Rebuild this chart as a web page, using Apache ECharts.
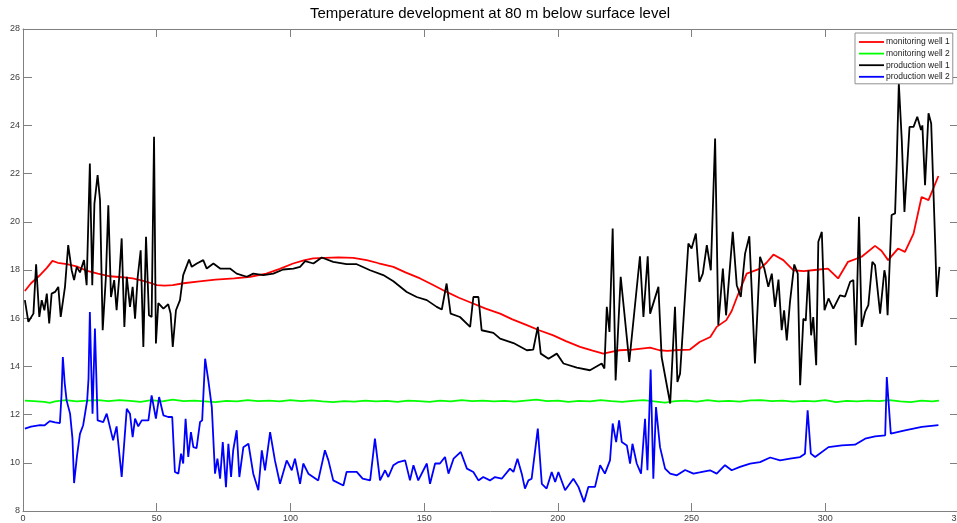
<!DOCTYPE html>
<html>
<head>
<meta charset="utf-8">
<title>Temperature development at 80 m below surface level</title>
<script src="https://cdn.jsdelivr.net/npm/echarts@6/dist/echarts.min.js"></script>
<style>
  html, body { margin: 0; padding: 0; background: #ffffff; }
  #chart { width: 957px; height: 523px; }
</style>
</head>
<body>
<div id="chart"></div>
<script>
// Temperature (deg C) at 80 m depth, [time, temperature] samples per well
const monitoringWell1 = [
  [0.7,17.13],[3,17.45],[6,17.75],[9,18.1],[11,18.38],[13,18.3],[16.4,18.24],[20,18.15],[24,17.96],[28,17.85],
  [32.5,17.74],[37,17.7],[41,17.65],[45,17.55],[48,17.45],[50,17.37],[53,17.35],[56,17.37],[60,17.45],[66,17.53],
  [72,17.6],[79,17.65],[85,17.72],[91,17.85],[96,18.05],[101,18.27],[105,18.4],[108.5,18.48],[113,18.5],[118,18.52],
  [123.5,18.5],[128.5,18.41],[133,18.28],[138.5,18.13],[143,17.9],[148.5,17.65],[153,17.4],[158.4,17.09],[163,16.85],[168.3,16.61],
  [173,16.4],[178.4,16.19],[183,15.95],[188.4,15.71],[193,15.5],[198.3,15.29],[203,15.05],[208.3,14.81],[213,14.65],[217,14.53],
  [220,14.6],[223,14.67],[228,14.7],[234.5,14.78],[238,14.67],[241,14.64],[245,14.68],[249.4,14.7],[253,15.01],[257,15.22],
  [259.4,15.64],[263,15.92],[265,16.3],[267,16.88],[270.6,17.85],[275.6,18.06],[278,18.3],[280.6,18.64],[284.3,18.41],[288,17.99],
  [292,17.95],[296,18.0],[301,18.06],[304.8,17.65],[308.5,18.34],[313.6,18.55],[318.6,19.0],[321,18.8],[323.5,18.41],[327.2,18.89],
  [329.8,18.75],[333,19.51],[336,21.03],[338.6,20.9],[342.3,21.9]
];

const monitoringWell2 = [
  [0.7,12.58],[4,12.56],[8,12.53],[10,12.49],[12,12.55],[16,12.6],[20,12.55],[24,12.58],[28,12.6],[32,12.56],
  [36,12.6],[40,12.57],[44,12.53],[48,12.6],[52,12.55],[56,12.62],[60,12.56],[64,12.58],[68,12.55],[72,12.52],
  [76,12.57],[80,12.55],[84,12.6],[88,12.56],[92,12.58],[96,12.55],[100,12.6],[104,12.56],[108,12.59],[112,12.55],
  [116,12.52],[120,12.56],[124,12.54],[128,12.58],[132,12.55],[136,12.57],[140,12.53],[144,12.58],[148,12.56],[152,12.53],
  [156,12.58],[160,12.55],[164,12.6],[168,12.56],[172,12.58],[176,12.55],[180,12.57],[184,12.54],[188,12.58],[192,12.62],
  [196,12.56],[200,12.58],[204,12.53],[208,12.57],[212,12.55],[216,12.6],[220,12.56],[224,12.53],[228,12.57],[232,12.6],
  [236,12.55],[240,12.5],[244,12.56],[248,12.58],[252,12.54],[256,12.6],[260,12.55],[264,12.57],[268,12.54],[272,12.59],
  [276,12.6],[280,12.56],[284,12.58],[288,12.54],[292,12.57],[296,12.55],[300,12.6],[304,12.52],[308,12.57],[312,12.55],
  [316,12.58],[320,12.56],[324,12.6],[328,12.55],[332,12.52],[336,12.58],[340,12.55],[342.5,12.58]
];

const productionWell1 = [
  [0.7,16.75],[2,15.85],[3.9,16.19],[4.9,18.24],[6.1,16.05],[7,16.75],[8,16.33],[8.9,17.02],[9.8,15.78],[10.7,17.02],
  [12,17.09],[13.2,17.3],[14.1,16.05],[15.7,17.3],[16.9,19.03],[18.2,17.99],[19.1,17.58],[20.1,18.13],[21.3,17.9],[22.8,18.41],
  [23.8,17.37],[25,22.42],[25.9,17.37],[26.7,20.74],[27.9,21.94],[28.8,20.9],[29.8,15.5],[31,17.72],[31.9,20.69],[32.9,16.88],
  [34.1,17.58],[35,16.33],[36,17.72],[36.9,19.31],[37.9,15.64],[38.8,17.72],[40,16.47],[41,17.3],[41.9,15.98],[42.9,17.72],
  [44,18.82],[45,14.81],[46,19.38],[47.1,16.12],[48.1,16.05],[49,23.53],[49.7,14.95],[50.6,16.63],[52.5,16.4],[54.3,16.58],
  [55.2,16.19],[56,14.81],[57.2,16.33],[58.7,16.75],[59.9,17.79],[62.1,18.43],[63.1,18.13],[65,18.27],[67.4,18.41],[68.7,18.06],
  [71.2,18.27],[73.7,18.06],[77.4,18.06],[79.9,17.85],[83.7,17.72],[86.1,17.85],[89.9,17.79],[93.6,17.85],[97.3,18.02],[101.1,18.06],
  [103.6,18.13],[105.5,18.37],[106.1,18.41],[108.6,18.27],[111.7,18.52],[116,18.34],[121,18.24],[124.8,18.24],[129.8,17.99],[134.7,17.79],
  [138.5,17.53],[143.5,17.09],[147.2,16.88],[151,16.75],[154.7,16.47],[156.6,16.36],[158.4,17.44],[159.9,16.19],[163.4,16.05],[167.2,15.64],
  [168.4,16.88],[170.3,16.88],[171.5,15.5],[175.9,15.39],[178.4,15.15],[183.4,14.97],[188.4,14.67],[190.8,14.7],[192.5,15.64],[193.6,14.53],
  [196.5,14.32],[199.6,14.53],[202.1,14.12],[207.1,13.95],[212,13.84],[216.4,14.12],[217.4,13.91],[218.3,16.47],[219.3,15.43],[220.5,19.72],
  [221.6,13.42],[223.5,17.72],[226.7,14.19],[230.7,18.57],[232,16.05],[233.6,18.57],[234.5,16.19],[237.6,17.3],[238.8,14.39],[242,12.46],
  [243.8,16.47],[244.7,13.35],[245.7,13.7],[248.8,19.1],[250,18.89],[251.6,19.51],[252.9,17.51],[254.2,17.85],[255.7,19.03],[257.2,17.99],
  [258.8,23.46],[260,15.71],[261.7,18.06],[262.9,16.12],[265.4,19.58],[266.9,17.37],[268.4,16.88],[270,18.68],[271.6,19.4],[273.7,14.12],
  [275.6,18.55],[277.2,18.06],[278.7,17.3],[280,17.85],[281.2,16.47],[282.5,17.6],[283.7,15.5],[284.6,16.33],[285.6,15.08],[286.8,16.68],
  [288.4,18.23],[289.7,17.85],[290.6,13.22],[291.8,15.98],[292.7,15.9],[293.7,17.99],[294.7,15.29],[295.5,16.05],[296.6,14.05],[297.4,19.17],
  [298.7,19.58],[299.7,16.33],[301.2,16.82],[303,16.4],[305.5,16.95],[307.4,16.9],[309.3,17.51],[310.5,17.58],[311.4,14.88],[312.6,20.21],
  [313.6,15.64],[314.9,16.26],[316.1,16.54],[317.6,18.34],[318.6,18.2],[320.5,16.19],[322.1,17.99],[322.6,17.7],[323.3,16.12],[324.8,20.28],
  [326.1,20.35],[326.7,22.42],[327.5,25.74],[328.6,23.39],[329.6,20.41],[331.5,23.94],[333,23.94],[334.4,24.36],[335.8,23.81],[336.3,24.0],
  [337.3,21.52],[338.6,24.5],[339.6,24.08],[341.1,19.1],[341.7,16.88],[342.7,18.13]
];

const productionWell2 = [
  [0.7,11.42],[3,11.5],[6.4,11.56],[8,11.55],[10,11.73],[12,11.68],[13.8,11.65],[14.4,12.8],[14.9,14.39],[15.6,13.3],
  [16.3,12.59],[17.6,12.04],[18.5,11.0],[19.1,9.16],[20.2,10.3],[21.3,11.2],[22.5,11.56],[24,12.59],[24.5,13.5],[25,16.26],
  [25.5,14.0],[26,12.04],[26.9,15.57],[27.9,11.76],[30,11.69],[31.3,12.04],[33.7,10.93],[35,11.51],[36.9,9.41],[38.8,12.24],
  [40,12.04],[41,11.06],[41.9,11.83],[43.1,11.51],[44.4,11.76],[46.9,11.76],[48.1,12.8],[49.7,11.83],[50.9,12.73],[52.5,11.97],
  [54.3,11.9],[55.8,11.9],[56.8,9.62],[58.1,9.55],[59.1,10.38],[59.9,9.97],[60.8,11.83],[61.8,10.24],[62.8,11.27],[63.7,10.65],
  [64.9,10.61],[66.2,11.69],[67,11.76],[68.1,14.32],[69.3,13.42],[70.6,12.31],[71.8,9.55],[72.7,10.17],[73.7,9.34],[74.7,10.86],
  [75.9,8.99],[76.8,10.79],[77.8,9.41],[78.6,10.52],[79.9,11.35],[80.9,9.41],[82.4,10.65],[84.3,10.79],[86.1,9.55],[88,8.86],
  [89.3,10.52],[90.5,9.69],[92.4,11.27],[94.2,10.1],[96.1,9.13],[98.6,10.1],[100.5,9.69],[101.7,10.17],[103.6,9.13],[104.8,9.97],
  [106.7,9.55],[110.4,9.27],[112.9,10.52],[114.2,10.1],[116,9.27],[119.8,9.06],[121,9.62],[124.8,9.62],[127,9.34],[129.8,9.27],
  [131.6,11.0],[133.5,9.27],[135.4,9.69],[136.6,9.41],[138.5,9.9],[140.4,10.03],[142.9,10.1],[144.7,9.27],[146,9.9],[147.8,9.27],
  [151,9.97],[152.2,9.13],[154.1,9.97],[155.9,9.97],[157.8,10.24],[159.1,9.55],[161,10.17],[163.7,10.45],[166,9.76],[168.4,9.62],
  [170.3,9.27],[172.1,9.41],[174.6,9.27],[176.5,9.41],[179,9.34],[182.1,9.76],[183.4,9.62],[184.9,10.17],[186.5,9.55],[187.7,8.93],
  [189,9.27],[190.2,9.34],[192.5,11.42],[194,9.13],[195.8,8.93],[197.7,9.62],[199,9.2],[200.2,9.62],[202.7,8.86],[205.8,9.34],
  [207.7,9.0],[209.8,8.37],[211.4,9.0],[213.9,9.0],[215.8,9.9],[217.6,9.55],[219.5,10.1],[220.5,11.63],[221.8,10.86],[222.9,11.76],
  [223.9,10.86],[225.8,10.72],[227,9.97],[227.9,10.79],[229.5,9.97],[231.1,9.55],[232.6,11.83],[233.5,9.69],[234.7,13.87],[235.7,9.34],
  [236.7,12.31],[238.2,10.65],[240.1,9.76],[242,9.55],[244.5,9.48],[247.6,9.7],[250.7,9.55],[253,9.6],[256.9,9.69],[259.4,9.55],
  [262.5,9.9],[265,9.69],[268.1,9.83],[271.9,9.97],[275.6,10.03],[279.4,10.22],[283.1,10.1],[286.8,10.17],[290.6,10.24],[292.4,10.38],
  [293.4,12.18],[294.6,10.38],[296.2,10.24],[301.2,10.65],[306.2,10.72],[311.1,10.75],[314.9,11.0],[318.6,11.1],[322.4,11.14],[323,13.56],
  [324.5,11.21],[329.8,11.35],[336.1,11.49],[342.3,11.56]
];

const seriesNames = ['monitoring well 1', 'monitoring well 2', 'production well 1', 'production well 2'];
const seriesColors = ['#ff0000', '#00ff00', '#000000', '#0000ff'];
const seriesData = [monitoringWell1, monitoringWell2, productionWell1, productionWell2];

const xTicks = { min: 0, max: 350, step: 50 };
const yTicks = { min: 8, max: 28, step: 2 };

const axisGrey = '#808080';
const labelColor = '#404040';
const fontFamily = 'Arial, "Liberation Sans", Helvetica, sans-serif';

function boxAxis(kind, position, showLabels, ticks) {
  return {
    type: 'value',
    position: position,
    min: ticks.min,
    max: ticks.max,
    interval: ticks.step,
    axisLine: { show: true, onZero: false, lineStyle: { color: axisGrey, width: 1 } },
    axisTick: { show: true, inside: true, length: kind === 'x' ? 8 : 9, lineStyle: { color: axisGrey, width: 1 } },
    axisLabel: {
      show: showLabels,
      color: labelColor,
      fontSize: 9,
      fontFamily: fontFamily,
      margin: 3
    },
    splitLine: { show: false }
  };
}

const chart = echarts.init(document.getElementById('chart'), null, { renderer: 'canvas' });

chart.setOption({
  animation: false,
  backgroundColor: '#ffffff',
  title: {
    text: 'Temperature development at 80 m below surface level',
    left: 490,
    top: 6,
    padding: 0,
    textAlign: 'center',
    textStyle: { fontSize: 15, fontWeight: 'normal', color: '#000000', fontFamily: fontFamily }
  },
  legend: {
    orient: 'vertical',
    left: 855,
    top: 33,
    padding: [4, 3, 2, 4],
    icon: 'rect',
    itemWidth: 25,
    itemHeight: 1.8,
    itemGap: 1.6,
    backgroundColor: '#ffffff',
    borderColor: '#909090',
    borderWidth: 1,
    borderRadius: 0,
    data: seriesNames,
    textStyle: { fontSize: 8.5, lineHeight: 10, color: '#202020', fontFamily: fontFamily, padding: [0, 0, 0, -3] }
  },
  grid: { left: 23, top: 29, width: 936, height: 482, containLabel: false, outerBoundsMode: 'none' },
  xAxis: [boxAxis('x', 'bottom', true, xTicks), boxAxis('x', 'top', false, xTicks)],
  yAxis: [boxAxis('y', 'left', true, yTicks), boxAxis('y', 'right', false, yTicks)],
  series: seriesData.map(function (data, i) {
    return {
      name: seriesNames[i],
      type: 'line',
      xAxisIndex: 0,
      yAxisIndex: 0,
      data: data,
      symbol: 'none',
      showSymbol: false,
      smooth: false,
      lineStyle: { color: seriesColors[i], width: 1.8 },
      itemStyle: { color: seriesColors[i] },
      emphasis: { disabled: true }
    };
  })
});
</script>
</body>
</html>
